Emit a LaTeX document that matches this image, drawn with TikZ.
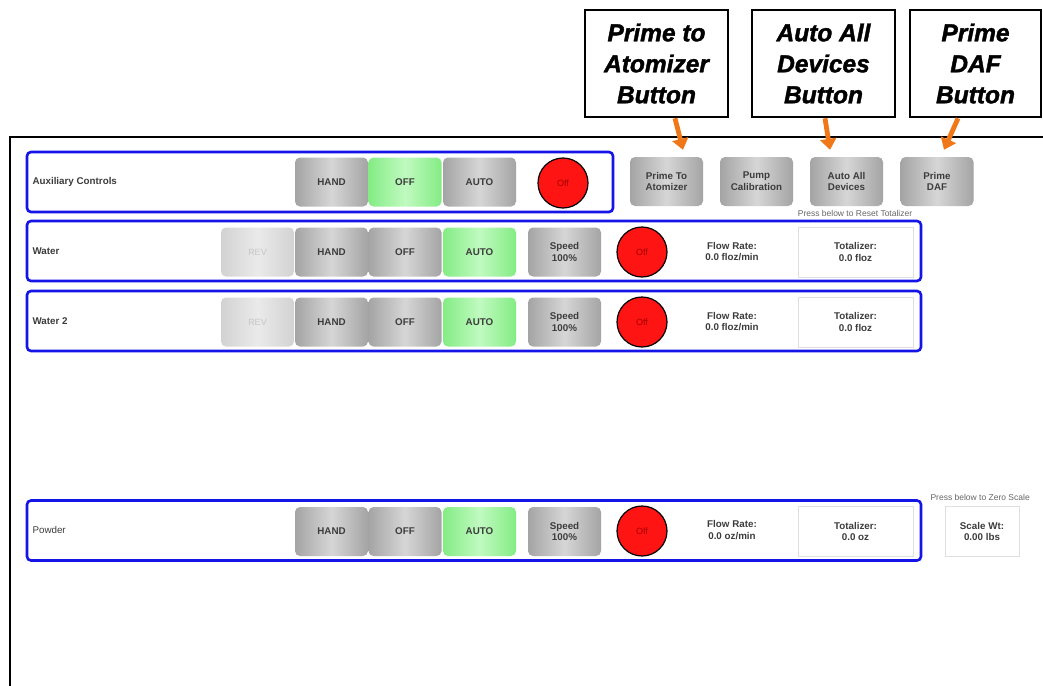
\documentclass[tikz,border=0pt]{standalone}
\usepackage{fontspec}
\setmainfont{Liberation Sans}
\newfontfamily\callfont{Liberation Sans}[BoldItalicFeatures={FakeBold=1.6}]
\usetikzlibrary{arrows.meta}
\definecolor{rowblue}{HTML}{1414E6}
\definecolor{callorange}{HTML}{F07818}
\definecolor{btnedge}{HTML}{A4A4A4}
\definecolor{btnmid}{HTML}{D6D6D6}
\definecolor{grnedge}{HTML}{84EC84}
\definecolor{grnmid}{HTML}{C0FAC0}
\definecolor{revedge}{HTML}{D2D2D2}
\definecolor{revmid}{HTML}{EAEAEA}
\definecolor{uitext}{HTML}{3C3C3C}
\definecolor{offred}{HTML}{FF1414}
\begin{document}
\begin{tikzpicture}[x=1pt,y=-1pt,
  uifont/.style={font=\fontsize{9.8}{11.8}\selectfont\bfseries, text=uitext},
  rowbox/.style={draw=rowblue, line width=2.6pt, rounded corners=4pt, inner sep=0pt, minimum height=60pt},
  btn/.style={uifont, rounded corners=5pt, inner sep=0pt, minimum width=73pt, minimum height=49pt,
              left color=btnedge, right color=btnedge, middle color=btnmid, align=center},
  grnbtn/.style={btn, left color=grnedge, right color=grnedge, middle color=grnmid},
  revbtn/.style={btn, left color=revedge, right color=revedge, middle color=revmid, text=gray!45, font=\fontsize{9}{11}\selectfont},
  lamp/.style={circle, draw=black, line width=1.2pt, fill=offred, minimum size=50pt, inner sep=0pt,
               text=red!65!black, font=\fontsize{9}{11}\selectfont},
  info/.style={uifont, align=center},
  totbox/.style={uifont, draw=gray!25, line width=0.6pt, fill=white, inner sep=0pt, minimum height=50pt, align=center},
  rowlbl/.style={uifont, anchor=west},
  note/.style={font=\fontsize{8.5}{10}\selectfont, text=gray!80!black},
  callout/.style={draw=black, line width=2.6pt, fill=white, inner sep=0pt, minimum height=107pt, align=center,
                  font=\callfont\fontsize{24.5}{31}\selectfont\bfseries\itshape},
  oarrow/.style={draw=callorange, line width=4.8pt, -{Triangle[width=16pt,length=11pt]}}
]
\useasboundingbox (0,0) rectangle (1043,685);
\fill[white] (0,0) rectangle (1043,685);

% outer frame
\draw[line width=2.8pt] (10,686) -- (10,137) -- (1044,137);

% callouts
\node[callout, minimum width=143pt] (c1) at (656.5,63.5) {Prime to\\Atomizer\\Button};
\node[callout, minimum width=143pt] (c2) at (823.5,63.5) {Auto All\\Devices\\Button};
\node[callout, minimum width=131pt] (c3) at (975.5,63.5) {Prime\\DAF\\Button};

% ---------- Auxiliary Controls row ----------
\node[rowbox, minimum width=586pt] (auxrow) at (320,182) {};
\node[rowlbl] (auxlbl) at (29,182) {Auxiliary Controls};
\node[btn] (auxhand) at (331.5,182) {HAND};
\node[grnbtn] (auxoff) at (405,182) {OFF};
\node[btn] (auxauto) at (479.5,182) {AUTO};
\node[lamp] (auxlamp) at (563,183) {Off};

\node[btn] (bprime) at (666.5,181.5) {Prime To\\Atomizer};
\node[btn] (bpump) at (756.5,181.5) {Pump\\Calibration};
\node[btn] (bauto) at (846.5,181.5) {Auto All\\Devices};
\node[btn] (bdaf) at (937,181.5) {Prime\\DAF};
\node[note] (resetnote) at (855,213) {Press below to Reset Totalizer};

% arrows
\draw[oarrow] ([xshift=18.5pt]c1.south) -- ([xshift=16.5pt,yshift=7pt]bprime.north);
\draw[oarrow] ([xshift=1.5pt]c2.south) -- ([xshift=-16.5pt,yshift=7pt]bauto.north);
\draw[oarrow] ([xshift=-17.5pt]c3.south) -- ([xshift=7pt,yshift=7pt]bdaf.north);

% ---------- Water row ----------
\node[rowbox, minimum width=894pt] (w1row) at (474,251) {};
\node[rowlbl] (w1lbl) at (29,251) {Water};
\node[revbtn] (w1rev) at (257.5,252) {REV};
\node[btn] (w1hand) at (331.5,252) {HAND};
\node[btn] (w1off) at (405,252) {OFF};
\node[grnbtn] (w1auto) at (479.5,252) {AUTO};
\node[btn] (w1speed) at (564.5,252) {Speed\\100\%};
\node[lamp] (w1lamp) at (642,252) {Off};
\node[info] (w1flow) at (732,251.5) {Flow Rate:\\0.0 floz/min};
\node[totbox, minimum width=115pt] (w1tot) at (855.5,252) {Totalizer:\\0.0 floz};

% ---------- Water 2 row ----------
\node[rowbox, minimum width=894pt] (w2row) at (474,321) {};
\node[rowlbl] (w2lbl) at (29,321) {Water 2};
\node[revbtn] (w2rev) at (257.5,322) {REV};
\node[btn] (w2hand) at (331.5,322) {HAND};
\node[btn] (w2off) at (405,322) {OFF};
\node[grnbtn] (w2auto) at (479.5,322) {AUTO};
\node[btn] (w2speed) at (564.5,322) {Speed\\100\%};
\node[lamp] (w2lamp) at (642,322) {Off};
\node[info] (w2flow) at (732,321.5) {Flow Rate:\\0.0 floz/min};
\node[totbox, minimum width=115pt] (w2tot) at (855.5,322) {Totalizer:\\0.0 floz};

% ---------- Powder row ----------
\node[rowbox, minimum width=894pt] (pwrow) at (474,530.5) {};
\node[rowlbl, font=\fontsize{9.8}{11.8}\selectfont] (pwlbl) at (29,530) {Powder};
\node[btn] (pwhand) at (331.5,531.5) {HAND};
\node[btn] (pwoff) at (405,531.5) {OFF};
\node[grnbtn] (pwauto) at (479.5,531.5) {AUTO};
\node[btn] (pwspeed) at (564.5,531.5) {Speed\\100\%};
\node[lamp] (pwlamp) at (642,531) {Off};
\node[info] (pwflow) at (732,530) {Flow Rate:\\0.0 oz/min};
\node[totbox, minimum width=115pt] (pwtot) at (855.5,531.5) {Totalizer:\\0.0 oz};
\node[note, anchor=west] (zeronote) at (927,497) {Press below to Zero Scale};
\node[totbox, minimum width=74pt] (scale) at (982,531.5) {Scale Wt:\\0.00 lbs};
\end{tikzpicture}
\end{document}
